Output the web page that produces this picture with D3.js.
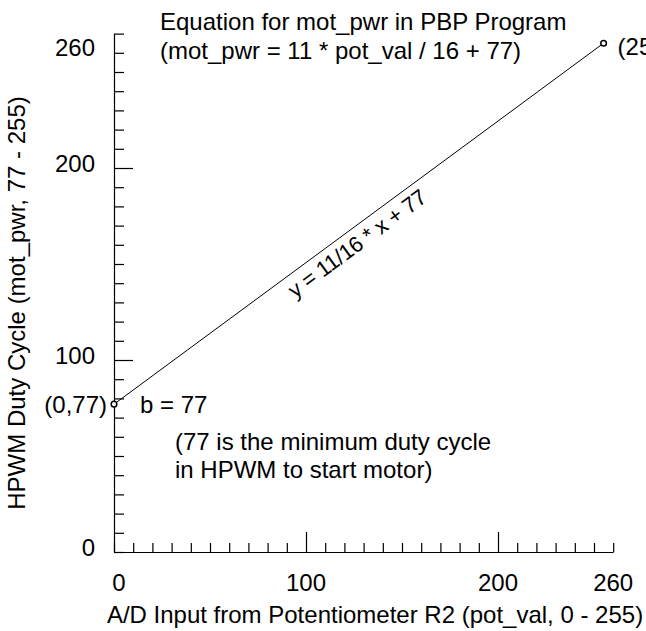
<!DOCTYPE html>
<html><head><meta charset="utf-8">
<script src="https://cdn.jsdelivr.net/npm/d3@7"></script>
<style>
html,body{margin:0;padding:0;background:#fff;}
svg text{font-family:"Liberation Sans",Arial,Helvetica,sans-serif;fill:#000;}
</style></head>
<body>
<svg id="chart" width="646" height="631"></svg>
<script>
// ---- data ----
const pointX = [0, 255];
const pointY = [77, 265];          // end point as drawn in the picture
const pointLabels = ["(0,77)", "(255,252)"];
const xTickLabels = [0, 100, 200, 260];
const yTickLabels = [0, 100, 200, 260];
const majorTicks = [100, 200];
const titleLines = ["Equation for mot_pwr in PBP Program", "(mot_pwr = 11 * pot_val / 16 + 77)"];
const noteLines = ["(77 is the minimum duty cycle", "in HPWM to start motor)"];
const interceptLabel = "b = 77";
const slopeLabel = "y = 11/16 * x + 77";
const xTitle = "A/D Input from Potentiometer R2 (pot_val, 0 - 255)";
const yTitle = "HPWM Duty Cycle (mot_pwr, 77 - 255)";

// ---- layout ----
const FS = 24;
const svg = d3.select("#chart");
const x = d3.scaleLinear().domain([0, 260]).range([114, 613.2]);
const y = d3.scaleLinear().domain([0, 270]).range([552, 33.6]);

// y axis (ticks pointing inward)
const yAxis = d3.axisRight(y).tickValues(d3.range(0, 271, 10)).tickSize(10).tickSizeOuter(0).tickFormat("");
const gy = svg.append("g").attr("transform", `translate(${x(0)},0)`).call(yAxis);
gy.selectAll(".tick line").attr("x2", d => majorTicks.includes(d) ? 19 : 10);
// x axis
const xAxis = d3.axisTop(x).tickValues(d3.range(0, 261, 10)).tickSize(9).tickSizeOuter(0).tickFormat("");
const gx = svg.append("g").attr("transform", `translate(0,${y(0)})`).call(xAxis);
gx.selectAll(".tick line").attr("y2", d => majorTicks.includes(d) ? -20 : -9);
svg.selectAll(".domain, .tick line").attr("stroke", "#000").attr("stroke-width", 1.2);

// tick labels
svg.append("g").selectAll("text").data(yTickLabels).join("text")
  .attr("x", 95).attr("y", d => y(d) - 5).attr("text-anchor", "end")
  .attr("dominant-baseline", "central").attr("font-size", FS).text(d => d);
svg.append("g").selectAll("text").data(xTickLabels).join("text")
  .attr("x", d => x(d) + (d === 0 ? 5 : 0)).attr("y", 582).attr("text-anchor", "middle")
  .attr("dominant-baseline", "central").attr("font-size", FS).text(d => d);

// axis titles
svg.append("text").attr("x", 375).attr("y", 614).attr("text-anchor", "middle")
  .attr("dominant-baseline", "central").attr("font-size", FS).text(xTitle);
svg.append("text").attr("transform", "translate(16,303) rotate(-90)").attr("text-anchor", "middle")
  .attr("dominant-baseline", "central").attr("font-size", FS).text(yTitle);

// title
svg.append("g").selectAll("text").data(titleLines).join("text")
  .attr("x", 160).attr("y", (d, i) => 21 + i * 29).attr("dominant-baseline", "central")
  .attr("font-size", FS).text(d => d);

// line
const pts = pointX.map((v, i) => [v, pointY[i]]);
svg.append("path").datum(pts).attr("fill", "none").attr("stroke", "#000").attr("stroke-width", 1)
  .attr("d", d3.line().x(d => x(d[0])).y(d => y(d[1])));
svg.append("g").selectAll("circle").data(pts).join("circle")
  .attr("cx", d => x(d[0])).attr("cy", d => y(d[1])).attr("r", 2.8)
  .attr("fill", "#fff").attr("stroke", "#000").attr("stroke-width", 1.5);

// point labels
svg.append("text").attr("x", x(pts[0][0]) - 7).attr("y", y(pts[0][1])).attr("text-anchor", "end")
  .attr("dominant-baseline", "central").attr("font-size", FS).text(pointLabels[0]);
svg.append("text").attr("x", x(pts[1][0]) + 14).attr("y", y(pts[1][1]) + 3)
  .attr("dominant-baseline", "central").attr("font-size", FS).text(pointLabels[1]);

// intercept & note
svg.append("text").attr("x", 140).attr("y", y(77)).attr("dominant-baseline", "central")
  .attr("font-size", FS).text(interceptLabel);
svg.append("g").selectAll("text").data(noteLines).join("text")
  .attr("x", 175).attr("y", (d, i) => 441 + i * 28).attr("dominant-baseline", "central")
  .attr("font-size", FS).text(d => d);

// slope label along the line
const p0 = [x(pts[0][0]), y(pts[0][1])], p1 = [x(pts[1][0]), y(pts[1][1])];
const ang = Math.atan2(p1[1] - p0[1], p1[0] - p0[0]) * 180 / Math.PI;
const t = 122;
const lx = x(t), ly = y(pts[0][1] + (pts[1][1] - pts[0][1]) * t / pts[1][0]);
svg.append("text").attr("transform", `translate(${lx},${ly}) rotate(${ang})`)
  .attr("y", 15).attr("text-anchor", "middle").attr("dominant-baseline", "central")
  .attr("font-size", 22).attr("letter-spacing", -0.3).text(slopeLabel);
</script>
</body></html>
